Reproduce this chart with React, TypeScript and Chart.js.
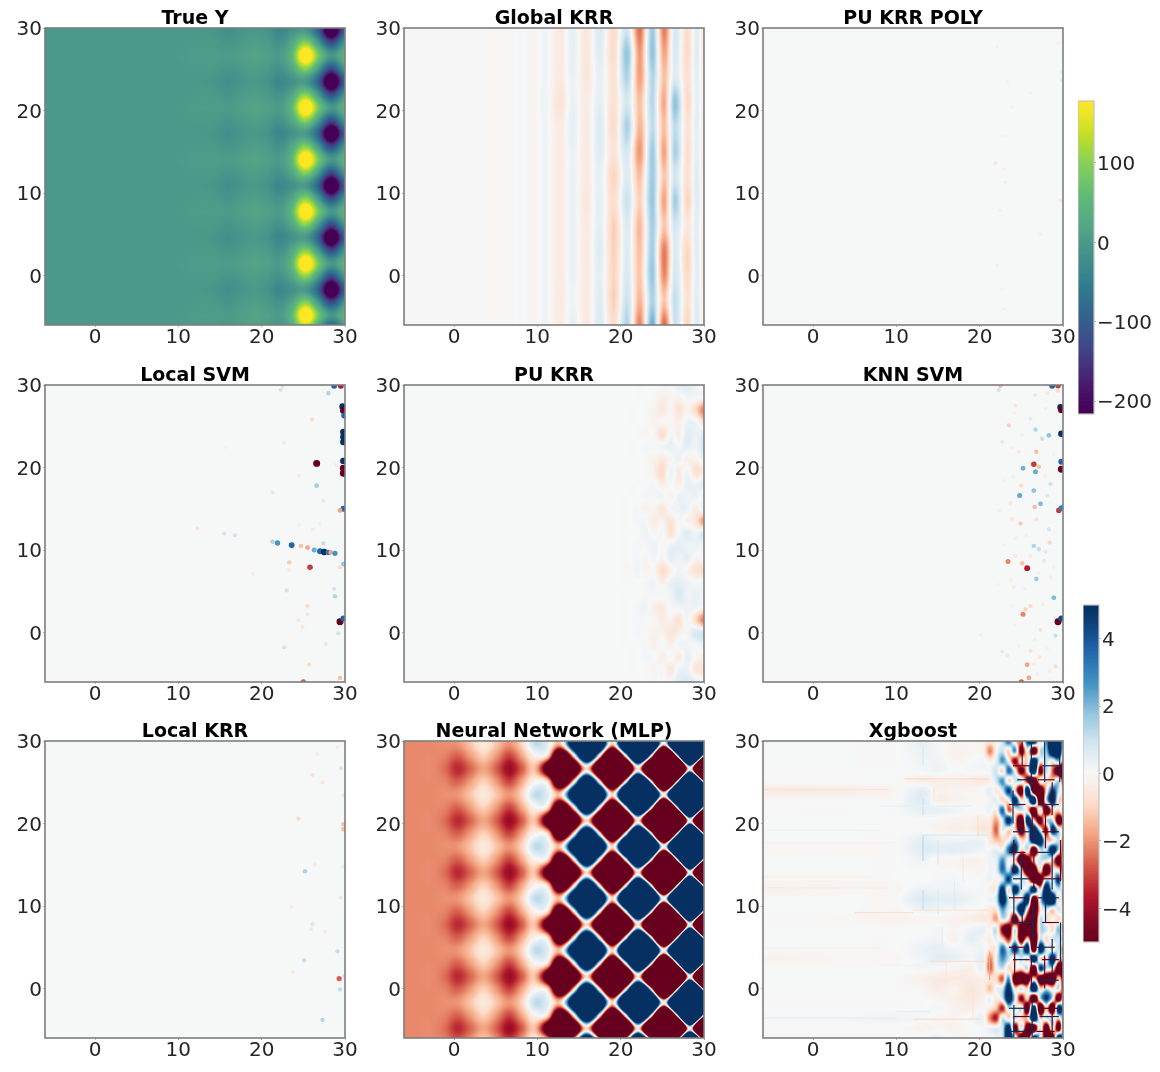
import { Chart, registerables } from 'chart.js';
import { useEffect, useRef } from 'react';

Chart.register(...registerables);

const axisTicks = [0, 10, 20, 30];
const viridisStops = ['#440154', '#482475', '#414487', '#355f8d', '#2f7a8e', '#418f8b', '#55a587', '#5cbb75', '#86cf5a', '#bddf26', '#fde725'];
const rdbuStops = ['#67001f', '#b2182b', '#d6604d', '#f4a582', '#fddbc7', '#f7f7f7', '#d1e5f0', '#92c5de', '#4393c3', '#2166ac', '#053061'];

// checkerboard coordinates shared by True Y and MLP
const checkerXs = [-7.3, -5.75, -4.2, -2.65, -1.1, 0.45, 2, 3.55, 5.1, 6.65, 8.2, 9.75, 11.3, 12.85, 14.4, 15.95, 17.5, 19.05, 20.6, 22.15, 23.7, 25.25, 26.8, 28.35, 29.9, 31.45];
const checkerYs = [31.4, 29.8, 28.2, 26.65, 25.1, 23.5, 21.9, 20.35, 18.8, 17.2, 15.6, 14.05, 12.5, 10.9, 9.3, 7.75, 6.2, 4.6, 3, 1.45, -0.1, -1.7, -3.3, -4.85, -6.4];

const trueHigh = [0, 0, 0, 0, 0, 0, 0, 0, 0, 0, 0, 1, 3, 6, 5, 3, 10, 18, 12, 3, 60, 240, 85, -5, 50, 140];
const trueMid = [0, 0, 0, 0, 0, 0, 0, 0, 0, 0, 0, 0, 1, 2, 0, -7, 1, 8, 2, -12, 25, 105, 0, -125, -8, 70];
const trueLow = [0, 0, 0, 0, 0, 0, 0, 0, 0, 0, 0, 0, -1, -2, -6, -17, -8, -2, -8, -32, -12, -3, -95, -300, -100, 0];
const trueRows = [trueMid, trueLow, trueMid, trueHigh, trueMid, trueLow, trueMid, trueHigh, trueMid, trueLow, trueMid, trueHigh, trueMid, trueLow, trueMid, trueHigh, trueMid, trueLow, trueMid, trueHigh, trueMid, trueLow, trueMid, trueHigh, trueMid];

const mlpRed = [-2.4, -2.4, -2.4, -2.4, -2.8, -3.8, -2.9, -2, -3, -4.4, -3, -1.6, -8, -20, -11, -1, -14, -32, -17, -0.8, -26, -60, -32, 0, -40, -80];
const mlpMid = [-2.4, -2.4, -2.4, -2.4, -2.5, -3, -2.1, -1.2, -2.2, -3.4, -1.9, -0.2, -1.2, -11, -0.7, 13, -0.7, -16, -0.4, 19, -0.3, -30, -0.2, 35, 0, -40];
const mlpBlue = [-2.4, -2.4, -2.4, -2.4, -2.3, -2.2, -1.4, -0.5, -1.4, -2.2, -1, 1.3, 0.5, -1, 11, 28, 13, -1, 18, 38, 20, 0, 30, 65, 35, 0];
const mlpRows = [mlpMid, mlpBlue, mlpMid, mlpRed, mlpMid, mlpBlue, mlpMid, mlpRed, mlpMid, mlpBlue, mlpMid, mlpRed, mlpMid, mlpBlue, mlpMid, mlpRed, mlpMid, mlpBlue, mlpMid, mlpRed, mlpMid, mlpBlue, mlpMid, mlpRed, mlpMid];

const globalXs = [-6, 3, 6.5, 8, 9.6, 10.9, 12.8, 14.2, 15.9, 17.5, 19.2, 20.8, 22.3, 23.8, 25.2, 26.5, 28, 29.1, 30, 31];
const globalYs = [30, 27, 24, 21, 18, 15, 12, 9, 6, 3, 0, -3, -6];
const globalRows = [
  [0, -0.02, -0.08, 0.06, -0.15, 0.2, -0.5, 0.45, -0.6, 0.7, -0.9, 0.9, -2.8, 1.8, -2.6, 0.8, -0.9, 0.5, -0.5, 0],
  [0, -0.02, -0.08, 0.06, -0.15, 0.2, -0.5, 0.45, -0.6, 0.6, -0.9, 1.9, -2.2, 2, -2, 0.8, -1, 0.6, -0.6, 0],
  [0, -0.02, -0.08, 0.06, -0.15, 0.2, -0.5, 0.35, -0.6, 0.45, -0.7, 1.5, -2.1, 1.5, -1.5, 0.7, -0.8, 0.5, -0.45, 0],
  [0, -0.02, -0.08, 0.06, -0.15, 0.2, -0.7, 0.35, -0.45, 0.5, -0.8, 0.9, -1.5, 1.4, -1.9, 2, -1, 0.5, -0.45, 0],
  [0, -0.02, -0.08, 0.06, -0.15, 0.2, -0.45, 0.45, -0.5, 0.7, -0.9, 1.6, -1.7, 1.3, -1.5, 1.3, -0.7, 0.5, -0.5, 0],
  [0, -0.02, -0.08, 0.06, -0.15, 0.2, -0.45, 0.35, -0.5, 0.6, -0.7, 0.9, -2.2, 1.8, -2, 1.6, -0.9, 0.45, -0.5, 0],
  [0, -0.02, -0.08, 0.06, -0.15, 0.2, -0.45, 0.35, -0.5, 0.45, -1.1, 0.7, -1.5, 1.8, -1.4, 0.9, -0.8, 0.6, -0.45, 0],
  [0, -0.02, -0.08, 0.06, -0.15, 0.2, -0.45, 0.35, -0.6, 0.5, -0.9, 1.1, -1.2, 1.9, -2, 1.7, -1.1, 0.6, -0.35, 0],
  [0, -0.02, -0.08, 0.06, -0.15, 0.2, -0.45, 0.35, -0.5, 0.5, -1.2, 0.7, -1.6, 1.7, -1.4, 0.9, -0.6, 0.5, -0.45, 0],
  [0, -0.02, -0.08, 0.06, -0.15, 0.2, -0.45, 0.35, -0.5, 0.6, -1.2, 0.7, -1.5, 1.7, -2.6, 0.7, -1.1, 0.6, -0.6, 0],
  [0, -0.02, -0.08, 0.06, -0.15, 0.2, -0.45, 0.35, -0.5, 0.5, -1.1, 0.8, -1.4, 1.9, -2.4, 0.9, -1, 0.5, -0.5, 0],
  [0, -0.02, -0.08, 0.06, -0.15, 0.2, -0.5, 0.25, -0.5, 0.6, -1.2, 1.1, -1.7, 1.6, -1.4, 1.2, -0.8, 0.6, -0.45, 0],
  [0, -0.02, -0.08, 0.06, -0.15, 0.2, -0.45, 0.45, -0.5, 0.7, -0.9, 1.5, -2.5, 2.5, -2.9, 1.1, -1.1, 0.7, -0.5, 0],
];

const puXs = [20, 21, 22, 23, 24, 25, 26, 27, 28, 29, 30];
const puYs = [30, 28.5, 27, 25.5, 24, 22.5, 21, 19.5, 18, 16.5, 15, 13.5, 12, 10.5, 9, 7.5, 6, 4.5, 3, 1.5, 0, -1.5, -3, -4.5, -6];
const puRows = [
  [0, 0, 0, 0, 0, 0, 0, 0.5, 0.6, 0.1, 0],
  [0, 0, 0, 0, 0, -0.3, -0.1, -0.2, 0.2, 0.1, 0],
  [0, 0, 0, 0, -0.2, -0.5, -0.1, -0.7, -0.2, -1, -2.6],
  [0, 0, 0, 0, -0.2, -0.1, -0.1, -0.3, 0.3, 0.2, -0.8],
  [0, 0, 0, -0.1, 0, -0.9, 0.1, -0.3, 0.6, 0.3, 0.6],
  [0, 0, 0, 0.1, 0.1, 0.2, 0.4, 0.1, 0.5, 0.2, 0.9],
  [0, 0, 0, 0, -0.2, -0.5, -0.1, 0.3, -0.3, -0.2, 0.3],
  [0, 0, 0, 0, -0.3, -1, 0.3, -0.5, 0.2, -0.8, -0.4],
  [0, 0, 0, 0, 0.1, -0.4, 0.1, -0.3, 0.4, 0.2, 0.6],
  [0, 0, 0, 0.1, 0.1, 0.2, -0.2, 0.3, 0.2, 0.3, -0.2],
  [0, 0, 0.1, -0.2, -0.1, -0.6, 0.1, 0.3, 0.3, -0.4, 0.4],
  [0, 0, 0.1, 0.1, -0.4, -0.2, -0.7, 0.1, -0.2, -0.6, -2.2],
  [0, 0, 0, 0.2, -0.1, 0.1, -0.7, 0.1, 0.6, 0.2, 0.8],
  [0, 0, 0.1, 0.1, 0.3, -0.1, 0.3, 0.5, 0.2, 0.3, 0.2],
  [0, 0, 0.1, -0.1, 0.2, -0.2, 0.5, 0.2, 0.5, -0.2, 0.1],
  [0, -0.1, 0.2, -0.2, -0.1, -0.9, -0.3, 0.2, -0.2, -0.7, -0.9],
  [0, 0, 0, 0.1, 0.2, -0.3, 0.4, 0.5, 0.3, 0.1, 0.2],
  [0, 0, 0, 0.1, 0.1, 0.1, 0.2, 0.8, 0.2, 0.4, 0.1],
  [0, 0, 0.1, 0.2, -0.3, -0.5, 0.1, 0.1, 0.3, 0.2, -0.1],
  [0, 0, 0.1, 0.1, -0.1, -0.4, -0.2, -0.7, 0.2, -1, -2.6],
  [0, 0, 0.1, 0, -0.2, -0.2, -0.6, -0.3, 0.1, 0.8, 0.9],
  [0, 0, 0, 0.1, -0.3, 0.1, -0.3, 0.2, 0.2, 0.1, 0.4],
  [0, 0, 0, 0.1, 0.1, -0.3, 0.1, -0.4, 0.4, -0.1, -0.3],
  [0, 0, 0, 0, -0.2, 0.1, -0.6, 0.3, 0.3, -0.6, -0.7],
  [0, 0, 0, 0, 0, 0, 0.1, 0.6, 0.8, 0.4, 0.2],
];

const xgbXs = [-6, 5, 10, 13.2, 15, 17, 19, 20.5, 21.25, 22, 22.75, 23.5, 24.25, 25, 25.75, 26.5, 27.25, 28, 28.75, 29.5, 30.25];
const xgbYs = [30, 28.8, 27.6, 26.4, 25.2, 24, 22.8, 21.6, 20.4, 19.2, 18, 16.8, 15.6, 14.4, 13.2, 12, 10.8, 9.6, 8.4, 7.2, 6, 4.8, 3.6, 2.4, 1.2, 0, -1.2, -2.4, -3.6, -4.8, -6];
const xgbRows = [
  [0, 0, 0, 0.4, 0.1, -0.1, -0.1, -0.2, -0.5, -0.2, 1, 4, -1, -2, 5, 8, -1, 3, 9, 6, 1],
  [0, 0, 0, 0.3, 0.1, -0.2, -0.1, -0.3, -2.5, 0, 1, -1, 3, -6, 0, -8, 1, 2, 9, 8, -3],
  [0, 0, 0, 0.2, 0.2, -0.1, 0, 0.1, -0.3, 0.5, 3, 0, -5, 0, -1, 8, 0, 1, 0, 2, -6],
  [0, 0, 0, 0.1, 0.2, 0, 0.1, 0.1, 0.2, 1, -1, 4, 0, -6, 0, 9, -6, 1, -3, -8, -9],
  [0, 0, 0, -0.3, -0.3, -0.3, -0.4, -0.5, -0.3, 1, 3, -1, 1, 1, -5, -9, 0, -1, -1, 1, -8],
  [-0.4, -0.3, -0.1, 0.5, -0.2, -0.1, -0.1, 0.1, 0.5, -0.5, 1, 5, -1, -7, 8, -9, -9, -1, 5, 1, -2],
  [0, 0, 0, 0.6, -0.3, -0.2, -0.1, -0.1, 0.2, 0.5, -1, 0, 6, -0.5, 1, 9, -9, 1, 7, -1, 0],
  [0, 0, 0.1, 0.4, 0.4, 0.2, 0, 0.1, 0.3, -0.3, 4, -3, 0, 1, -1, -8, 1, -8, -1, -1, 2],
  [0, 0, 0, 0, -0.1, -0.2, -0.2, -0.4, -0.4, -2, 1, 6, -1, -9, 7, -1, -6, 1, 1, -7, -1],
  [0, 0, 0, 0, -0.2, -0.3, -0.3, -0.6, -0.7, -3, 0.5, -1, -1, -7, 1, 8, 1, -5, 6, 1, -1],
  [0, 0, 0, 0.5, 0.3, 0.2, 0.3, 0.2, -0.5, -1.5, -1, 0, 3, -1, 0.5, 9, 8, -1, -1, 1, -5],
  [-0.1, -0.1, 0, 0.6, 0.5, 0.5, 0.4, 0.2, 0.1, 0.5, 0, 4, 6, -1, 1, -8, 1, 1, 7, 1, -6],
  [0, 0, 0, 0.2, -0.1, -0.1, -0.2, -0.1, 0.3, 0.5, 3, 0, -1, -9, -7, -1, 1, 1, -1, -7, 3],
  [0, 0, 0, 0.1, 0, 0, -0.1, -0.1, 0.2, 0.5, 4, 1, 7, -1, -9, -9, 0, -9, -1, -1, -6],
  [-0.1, -0.1, 0, 0, 0.1, 0.1, 0, 0.1, 0.3, -0.3, 1, 5, -1, 1, -1, -9, -8, 1, 0, 5, -9],
  [-0.2, -0.1, -0.1, 0.3, 0.2, 0.2, 0.1, 0.1, -0.3, 0, 6, -1, 7, 1, 1, 7, -1, 8, 1, 1, 1],
  [0, 0, 0, 0.7, 0.5, 0.5, 0.2, 0.1, 0.3, 1, 7, 1, -1, 1, 7, -9, 1, 7, 9, -1, 5],
  [0, 0, -0.1, 0.3, 0.2, 0.1, 0, -0.1, -0.5, -0.5, 3, 0.5, 1, 8, -1, -9, -1, 1, -1, 1, -1],
  [0, -0.1, -0.2, -0.1, -0.1, -0.2, -0.3, -0.5, -0.6, -2, 1, -1, -7, 0, -6, -9, 1, -1, 0, -1, 1],
  [0, 0, 0, 0, 0.1, -0.1, 0.2, 0.4, -0.2, 1, -5, -7, 1, -9, -9, -8, 1, 1, -1, 2, -6],
  [0, 0, 0, 0.1, 0.2, -0.2, 0.5, 0.1, -0.4, 0.5, -1, -4, 1, -7, -1, -9, 1, -1, 1, 1, 1],
  [0, 0, 0, 0.3, 0.4, 0.2, 0.1, 0.2, -0.5, -0.2, 4, 1, 6, 1, 7, -9, 7, 1, -1, 1, -6],
  [-0.2, -0.1, -0.1, 0.2, 0.5, 0.4, 0.1, 0.3, -2.5, 0.5, 3, 1, -1, 1, -1, 8, -1, 0, 7, -1, -1],
  [0, 0, 0, 0.1, 0, -0.2, -0.3, 0.2, -3, 0, 1, -1, 0, -1, 1, -9, 5, 1, 0, -8, -9],
  [0, 0, 0, -0.3, -0.4, -0.4, -0.4, -0.3, -0.5, -1, -3, 3, -8, -9, -7, -1, -7, -8, -9, -1, -9],
  [0, 0, 0, -0.1, -0.4, -0.2, -0.6, -0.4, -1.5, 0.3, 1, 6, -1, 1, -1, 9, -1, 1, -1, 1, -8],
  [0, 0, 0, 0, -0.1, -0.3, -0.5, -0.2, 0.3, -0.5, 1, 7, 1, -5, -1, -9, 1, 5, 1, -7, 3],
  [0, 0, 0, 0, 0.1, -0.2, -0.3, -0.1, -0.5, -1.5, -4, 1, -1, 1, -8, 8, -9, -1, -9, 7, -1],
  [0.1, 0.1, 0.2, 0.1, -0.1, -0.1, 0.1, 0.2, -2.5, -4, 1, -1, 1, -1, -1, 9, -1, 1, 1, -1, 5],
  [0, 0, 0, -0.2, -0.1, -0.2, 0, 0.1, 0.3, 0.5, 1, 7, -6, 1, -8, -9, 1, -8, 1, -7, 8],
  [0, 0, 0, 0.1, 0.3, -0.1, 0, 0.1, 0, 0.2, 1, 8, 1, -8, -9, 7, 1, -7, -8, 8, -1],
];
// tree-split lines: x1, y1, x2, y2, value
const xgbStreaks = [
  [-6, 24.1, 9, 24.1, -0.7], [11, 25.4, 21, 25.4, -1], [8, 22.1, 19, 22.1, 0.4], [-6, 19.2, 8, 19.2, 0.25], [-6, 17.7, 10, 17.7, -0.3], [13, 18.6, 21, 18.6, 0.8],
  [-6, 12.2, 9, 12.2, -0.4], [-6, 13.5, 7, 13.5, -0.3], [5, 9.2, 12, 9.2, -0.8], [12, 9.5, 21, 9.5, -0.7], [-6, 4.9, 8, 4.9, -0.3], [14, 3.3, 21, 3.3, -0.8],
  [8, 2.8, 13, 2.8, 0.3], [-6, -3.6, 10, -3.6, 0.5], [12, -3.7, 20, -3.7, -1], [10, -2.8, 14, -2.8, 0.5], [13.2, 29.5, 13.2, 27, 0.8], [13.2, 23, 13.2, 21, 1.2],
  [13.2, 18.5, 13.2, 15.5, 1.4], [13.2, 12, 13.2, 9.5, 1.2], [15, 18, 15, 15, 0.8], [15, 12, 15, 9, 0.7], [17, 13, 17, 9.5, 0.6], [21.2, 4.5, 21.2, 1, -2],
  [14.5, 22.5, 14.5, 24.5, -0.5], [18, 16, 18, 13, -0.6], [19.8, 21, 19.8, 18.5, -0.8], [16, 4, 16, 0, -0.5], [19.2, -0.5, 19.2, -3.5, -0.7], [15.5, 7.5, 15.5, 5, 0.6],
  [26.2, 30, 26.2, 24, 7], [26.3, 22, 26.3, 18, -7], [26.5, 17, 26.5, 12, -8], [26.4, 10, 26.4, 6, 7], [26.2, 4, 26.2, 0, -7], [26.3, -1, 26.3, -6, 7],
  [24, 24, 24, 20, 6], [24.1, 18, 24.1, 14, -5], [24.1, 12, 24.1, 8, 6], [24.2, 5, 24.2, 1, -5], [24.1, -2, 24.1, -6, 6], [25.1, 30, 25.1, 27, -6],
  [25, 16, 25, 12, 6], [25.1, 9, 25.1, 6, -6], [27.8, 30, 27.8, 25, 6], [27.9, 21, 27.9, 17, -6], [27.9, 12, 27.9, 8, 6], [27.8, 4, 27.8, 0, -6],
  [28.7, 25, 28.7, 21, -6], [28.7, 17, 28.7, 12, 6], [28.7, 6, 28.7, 2, 6], [28.7, -2, 28.7, -6, -6], [29.6, 30, 29.6, 25, 7], [29.7, 18, 29.7, 13, -7], [29.7, 8, 29.7, 3, 6],
  [24, 27, 26, 27, -6], [27.5, 27, 29.5, 27, 6], [24.5, 25.3, 26.2, 25.3, 6], [27, 25.3, 29, 25.3, -6], [23.5, 22.3, 25.5, 22.3, -6], [27, 22.3, 29.5, 22.3, 6],
  [24, 19, 26, 19, 6], [27.5, 19, 29.5, 19, -6], [23.5, 16.5, 25.5, 16.5, -6], [26.8, 16.5, 29, 16.5, 6], [24, 13.3, 26, 13.3, 6], [27.5, 13.3, 29.8, 13.3, -6],
  [23.5, 11, 25.5, 11, -7], [27, 11, 29.5, 11, 6], [24, 8, 26.2, 8, 6], [27.5, 8, 29.5, 8, -6], [23.5, 5, 25.5, 5, -6], [26.8, 5, 29, 5, 6],
  [24, 3.5, 26, 3.5, 6], [27.5, 3.5, 29.5, 3.5, -6], [24, 1, 26, 1, -6], [27, 1, 29.5, 1, 6], [23.5, -2.4, 25.8, -2.4, 6], [27, -2.4, 29.5, -2.4, -6],
  [24, -3.4, 26, -3.4, -6], [27.2, -3.4, 29.5, -3.4, 6], [23.5, -5.2, 25.5, -5.2, 6], [26.8, -5.2, 29, -5.2, -6],
];

const flatXs = [-6, 30];
const flatYs = [30, -6];
const flatRows = [[0, 0], [0, 0]];

const polySpecks = [
  [21.9, 13.6, -0.6], [22.9, 12.9, 0.35], [23, 11.3, 0.35], [22.5, 7.9, 0.3], [29.7, 9.1, -0.5], [29.8, 23.7, 0.5], [29.8, 24.6, 0.4],
  [23.3, 23.5, 0.25], [26.1, 22.1, -0.25], [29.5, 28.2, -0.25], [23.9, 20.4, -0.2], [27.3, 5, -0.25], [22.1, 1.2, -0.3], [22.9, -4.1, 0.3],
  [22.7, -1.6, -0.2], [23.3, 16.9, 0.2], [22.7, 16.9, -0.2], [22.1, 27.7, 0.2],
];
const localSvmSpecks = [
  [26.6, 20.5, -6], [29.4, 1.3, -6], [29.7, 27.4, 5], [29.8, 26.9, -5.5], [29.9, 26.3, 4], [29.8, 24.3, 5], [29.8, 23.7, 5], [29.8, 23.1, 5],
  [29.8, 19.9, -6], [29.8, 19.3, -6], [29.8, 20.8, 5], [29.8, 15, 4], [29.4, 14.8, -2], [26.6, 17.8, 1.8], [25.8, 7.9, -3.5], [23.3, 8.5, -1.3],
  [21.9, 10.85, 3], [21.3, 11, 1.5], [23.6, 10.6, 4], [24.7, 10.5, -1.5], [25.5, 10.3, -2], [26.3, 10, 2.5], [27, 9.85, 4], [27.5, 9.75, 5],
  [28, 9.7, 3.5], [28.3, 9.7, -2], [28.8, 9.6, 3], [27.4, 10.8, 1.2], [23, 5.1, 1], [28.8, 4.4, 1.5], [28.7, 5.3, 1], [25.5, 3.2, -1],
  [24.4, 1.5, -0.7], [25.5, 2.2, -0.7], [24.9, 0.7, -0.7], [22.7, -1.8, 1], [29.2, -0.1, 1], [27.7, -1.4, 0.7], [25.7, -3.9, -1], [26.05, 25.8, -1],
  [28, 29, 1.5], [22.3, 29.4, 1], [22.5, 29.9, -1], [28.7, 29.9, 4], [29.5, 29.9, -4], [25, -6, -3], [29.4, -5.5, -1.5], [21.3, 17, 0.7],
  [27.4, 16, 0.7], [22.7, 23, 0.5], [15.7, 22.5, 0.3], [12.3, 12.6, -0.7], [15.5, 12, 1], [16.8, 11.8, 1], [29.8, 8.3, 2], [29.4, 7.9, -1],
  [29.8, 1.7, 4], [18.9, 7.1, -0.4], [24.5, 19, -0.5], [28.9, 20.3, -0.4], [23.3, 7.6, -0.5], [26.1, 12.5, -0.4], [27, 13.2, -0.4], [24.5, 13, -0.3],
];
const knnSpecks = [
  [26.5, 20.4, -3.5], [26.7, 19.5, 2.5], [27.1, 20.1, -1.5], [26.8, 21.9, -1.5], [29.4, 1.3, -6], [29.8, 1.7, 4.5], [29.7, 27.3, 5], [29.8, 27, -5.5],
  [29.8, 24.1, 5], [29.8, 19.8, -6], [29.8, 20.7, 4], [29.5, 14.8, -3.5], [29.8, 15.1, 3.5], [25.7, 7.8, -4], [25.1, 8.4, -1.5], [23.4, 8.6, -2.5],
  [25.2, 2.2, -2.5], [25.5, 2.8, -1.2], [26.1, 3.2, -1], [28.9, 4.2, 2.2], [26.8, 6.5, 1.8], [24.8, 16.6, 2.6], [25, 17.8, -1], [25.2, 19.9, 2.4],
  [26.5, 17.2, 2], [27.3, 15.6, 2.2], [26.6, 15.2, -1.6], [23.5, 25.1, -1.2], [26.7, 24.6, 1.5], [28.3, 23.9, 2], [27.5, 23.5, 1.2], [25.7, -3.9, -2],
  [24.9, 13.2, -1.3], [26.8, 13.7, -0.8], [26.5, 10.5, 1.5], [27.1, 10.1, 1.2], [28.4, 10.9, -1.1], [28.3, 12.5, 0.9], [28.5, 18, 1.1], [28.1, 16.6, 0.8],
  [24.7, 21.9, -0.6], [22.7, 23.1, 0.7], [22.5, 29.9, -1.5], [22.3, 29.4, 1], [28.7, 29.9, 4], [29.4, 29.9, -3.5], [29.4, 29.3, -1], [25, -6, -3],
  [25.9, -5.5, -2], [29.1, -0.4, 1.2], [27.3, 0.3, -0.8], [26.1, -2.2, -0.8], [22.7, -2.3, 0.6], [23.7, 15.7, -0.6], [23.9, 13.8, -0.7], [22.3, 14.8, 0.4],
  [27.9, 9.8, 0.7], [27.7, 8.7, 0.7], [28.5, 6.7, -0.5], [26.1, 9.3, -0.5], [24.3, 9.3, -0.5], [26.5, -3.8, -0.5], [27.2, -3, -0.6], [23.3, -2.8, -0.7],
  [29.1, -4.1, -0.9], [26.7, 28.8, 0.7], [28.1, 29, -0.6], [24.3, 27.5, -0.7], [26.1, 25.9, 0.7], [24.1, 5.5, -0.4], [20.1, -0.3, -0.3],
  [24.2, 26.6, -0.3], [25.1, 24, 0.3], [27.9, 27.2, 0.3], [23.8, 22.4, -0.3], [28.9, 21.6, 0.3], [24, 18.9, 0.3], [27.8, 19, -0.3], [23, 18.4, -0.25],
  [25.6, 11.8, 0.3], [24.3, 11.4, -0.3], [22.9, 10.6, 0.3], [28.9, 8, 0.3], [27.1, 7.2, -0.3], [23.8, 6.4, -0.3], [25.4, 5.3, 0.3], [27.6, 3.4, -0.3],
  [24.2, 0.9, -0.3], [26.6, -0.9, 0.3], [28.1, -2, -0.3], [24.7, -1.6, -0.3], [26.9, -5, 0.3], [28.4, -4.7, 0.3], [23.9, 3.2, 0.25], [22.2, 5.8, -0.25],
];
const localKrrSpecks = [
  [29.3, 1.2, -3], [29.9, 1.5, 1], [29.5, 26.7, 1], [29.8, 19.9, -1.5], [29.8, 19.3, -1.5], [29.8, 23.4, 0.7], [26.1, 25.9, -0.8], [27.3, 25, -0.7],
  [24.4, 20.6, -1], [25.2, 14.2, 1.6], [25.1, 3.4, 1.2], [29.1, 4.5, 1.2], [29.4, -0.1, 1.3], [27.3, -3.8, 1.5], [26.1, 7.8, 0.9], [25.9, 7.2, 0.6],
  [26.4, 15, -0.5], [23.6, 9.9, -0.5], [27.6, 6.9, -0.5], [29.1, 29.2, -0.4], [26.7, 28.4, -0.4], [29.5, 11, 0.6], [29.8, 14.8, 0.5], [23.7, 2, -0.5],
];

const viridisLevels = [178, 100, 0, -100, -216];
const viridisTicks = [-200, -100, 0, 100];
const rdbuLevels = [5, 0, -5];
const rdbuTicks = [-4, -2, 0, 2, 4];

function makeLut(stops: string[]) {
  const rgb = stops.map((s) => [1, 3, 5].map((i) => parseInt(s.slice(i, i + 2), 16)));
  const lut: number[][] = [];
  for (let i = 0; i < 256; i++) {
    const p = (i / 255) * (rgb.length - 1);
    const k = Math.min(Math.floor(p), rgb.length - 2);
    const t = p - k;
    lut.push(rgb[k].map((c, n) => c + (rgb[k + 1][n] - c) * t));
  }
  return lut;
}
const viridisLut = makeLut(viridisStops);
const rdbuLut = makeLut(rdbuStops);

function lutColor(lut: number[][], v: number, lo: number, hi: number) {
  const t = Math.max(0, Math.min(1, (v - lo) / (hi - lo)));
  return lut[Math.round(t * 255)];
}

function cssColor(p: any, v: number) {
  const c = lutColor(p.lut, v, p.lo, p.hi);
  return `rgb(${c[0]},${c[1]},${c[2]})`;
}

function fracIndex(coords: number[], v: number) {
  const asc = coords[1] > coords[0];
  for (let i = 0; i < coords.length - 1; i++) {
    const a = coords[i];
    const b = coords[i + 1];
    if ((asc && v <= b) || (!asc && v >= b)) return i + Math.max(0, (v - a) / (b - a));
  }
  return coords.length - 1;
}

function spline(a: number, b: number, c: number, d: number, t: number) {
  return 0.5 * (2 * b + (c - a) * t + (2 * a - 5 * b + 4 * c - d) * t * t + (3 * b - a - 3 * c + d) * t * t * t);
}

// paints the value grid into the chart area, position by position through the scales
function heatPlugin(p: any) {
  return {
    id: 'heat',
    beforeDatasetsDraw(chart: any) {
      const { left, top, width, height } = chart.chartArea;
      const w = Math.round(width);
      const h = Math.round(height);
      const off = document.createElement('canvas');
      off.width = w;
      off.height = h;
      const octx = off.getContext('2d')!;
      const img = octx.createImageData(w, h);
      const ix = Array.from({ length: w }, (_, i) => fracIndex(p.xs, chart.scales.x.getValueForPixel(left + i + 0.5)));
      const iy = Array.from({ length: h }, (_, j) => fracIndex(p.ys, chart.scales.y.getValueForPixel(top + j + 0.5)));
      const nx = p.xs.length;
      const ny = p.ys.length;
      for (let j = 0; j < h; j++) {
        const r = Math.min(Math.floor(iy[j]), ny - 2);
        const ty = iy[j] - r;
        const rr = [r - 1, r, r + 1, r + 2].map((n) => p.rows[Math.max(0, Math.min(ny - 1, n))]);
        for (let i = 0; i < w; i++) {
          const c = Math.min(Math.floor(ix[i]), nx - 2);
          const tx = ix[i] - c;
          const c0 = Math.max(0, c - 1);
          const c3 = Math.min(nx - 1, c + 2);
          const v = spline(
            spline(rr[0][c0], rr[0][c], rr[0][c + 1], rr[0][c3], tx),
            spline(rr[1][c0], rr[1][c], rr[1][c + 1], rr[1][c3], tx),
            spline(rr[2][c0], rr[2][c], rr[2][c + 1], rr[2][c3], tx),
            spline(rr[3][c0], rr[3][c], rr[3][c + 1], rr[3][c3], tx),
            ty
          );
          const col = lutColor(p.lut, v, p.lo, p.hi);
          const o = (j * w + i) * 4;
          img.data[o] = col[0];
          img.data[o + 1] = col[1];
          img.data[o + 2] = col[2];
          img.data[o + 3] = 255;
        }
      }
      octx.putImageData(img, 0, 0);
      chart.ctx.drawImage(off, left, top);
    },
    afterDatasetsDraw(chart: any) {
      const { left, top, width, height } = chart.chartArea;
      const ctx = chart.ctx;
      ctx.save();
      ctx.strokeStyle = p.frame;
      ctx.lineWidth = p.frameWidth;
      ctx.strokeRect(left, top, width, height);
      ctx.restore();
    },
  };
}

function buildDatasets(panel: any) {
  const specks = panel.specks || [];
  const sets: any[] = [{
    data: specks.map((s: number[]) => ({ x: s[0], y: s[1] })),
    pointRadius: specks.map((s: number[]) => 1.8 + Math.min(Math.abs(s[2]), 6) * 0.28),
    pointBorderWidth: 0,
    pointBackgroundColor: specks.map((s: number[]) => cssColor(panel, s[2])),
  }];
  (panel.streaks || []).forEach((s: number[]) => {
    sets.push({
      data: [{ x: s[0], y: s[1] }, { x: s[2], y: s[3] }],
      showLine: true, pointRadius: 0, borderWidth: 1.2, borderColor: cssColor(panel, s[4]),
    });
  });
  return sets;
}

function Panel({ panel }: { panel: any }) {
  const canvasRef = useRef<HTMLCanvasElement>(null);

  useEffect(() => {
    if (!canvasRef.current) return;
    const bar = panel.bar;
    const tickFont = { family: 'DejaVu Sans', size: 20 };
    const tickLabel = (v: any) => String(v).replace('-', '\u2212');
    const chart = new Chart(canvasRef.current, {
      type: 'scatter',
      data: { datasets: buildDatasets(panel) },
      options: {
        responsive: false,
        animation: false,
        layout: {
          autoPadding: false,
          padding: bar ? 0 : { right: 45 },
        },
        plugins: {
          legend: { display: false },
          tooltip: { enabled: false },
          title: bar
            ? { display: false }
            : {
                display: true,
                fullSize: false,
                text: panel.title,
                color: '#000',
                font: { family: 'DejaVu Sans', size: 19, weight: 'bold', lineHeight: 1 },
                padding: { top: 10, bottom: -1 },
              },
        },
        scales: {
          x: {
            type: 'linear',
            display: !bar,
            min: bar ? 0 : -6,
            max: bar ? 1 : 30,
            grid: { drawOnChartArea: false, tickLength: 2, color: '#b5b5b5' },
            border: { display: false },
            ticks: { font: tickFont, color: '#262626', padding: -1, maxRotation: 0, callback: tickLabel },
            afterBuildTicks: (s: any) => { s.ticks = axisTicks.map((value) => ({ value })); },
            afterFit: (s: any) => { s.height = bar ? 0 : 40; },
          },
          y: {
            type: 'linear',
            position: bar ? 'right' : 'left',
            min: bar ? bar.lo : -6,
            max: bar ? bar.hi : 30,
            grid: { drawOnChartArea: false, tickLength: 2, color: '#b5b5b5' },
            border: { display: false },
            ticks: { font: tickFont, color: '#262626', padding: 1, labelOffset: 2, callback: tickLabel },
            afterBuildTicks: (s: any) => { s.ticks = (bar ? bar.ticks : axisTicks).map((value: number) => ({ value })); },
            afterFit: (s: any) => { s.width = bar ? bar.axisWidth : 45; },
          },
        },
      } as any,
      plugins: [heatPlugin(panel)],
    });
    return () => chart.destroy();
  }, [panel]);

  return (
    <canvas
      ref={canvasRef}
      width={panel.w}
      height={panel.h}
      style={{ position: 'absolute', left: panel.left, top: panel.top, width: panel.w, height: panel.h, filter: 'blur(0.7px)' }}
    />
  );
}

const colLefts = [45, 404, 763];
const rowTops = [28, 385, 741];
const rd = { lut: rdbuLut, lo: -5, hi: 5 };

function cell(col: number, row: number, title: string, xs: number[], ys: number[], rows: number[][], extra: any) {
  return {
    title, xs, ys, rows, ...rd, ...extra,
    frame: '#7d7d7d', frameWidth: 1.6,
    left: colLefts[col] - 45, top: rowTops[row] - 28, w: 390, h: 365,
  };
}

const panels = [
  cell(0, 0, 'True Y', checkerXs, checkerYs, trueRows, { lut: viridisLut, lo: -216, hi: 178 }),
  cell(1, 0, 'Global KRR', globalXs, globalYs, globalRows, {}),
  cell(2, 0, 'PU KRR POLY', flatXs, flatYs, flatRows, { specks: polySpecks }),
  cell(0, 1, 'Local SVM', flatXs, flatYs, flatRows, { specks: localSvmSpecks }),
  cell(1, 1, 'PU KRR', puXs, puYs, puRows, {}),
  cell(2, 1, 'KNN SVM', flatXs, flatYs, flatRows, { specks: knnSpecks }),
  cell(0, 2, 'Local KRR', flatXs, flatYs, flatRows, { specks: localKrrSpecks }),
  cell(1, 2, 'Neural Network (MLP)', checkerXs, checkerYs, mlpRows, {}),
  cell(2, 2, 'Xgboost', xgbXs, xgbYs, xgbRows, { streaks: xgbStreaks }),
  {
    title: '', xs: [0, 1], ys: viridisLevels, rows: viridisLevels.map((v) => [v, v]),
    lut: viridisLut, lo: -216, hi: 178, frame: '#c4c4c4', frameWidth: 1.2,
    left: 1078, top: 88, w: 82, h: 339,
    bar: { lo: -216, hi: 178, ticks: viridisTicks, axisWidth: 66 },
  },
  {
    title: '', xs: [0, 1], ys: rdbuLevels, rows: rdbuLevels.map((v) => [v, v]),
    lut: rdbuLut, lo: -5, hi: 5, frame: '#c4c4c4', frameWidth: 1.2,
    left: 1083, top: 592, w: 77, h: 363,
    bar: { lo: -5, hi: 5, ticks: rdbuTicks, axisWidth: 61 },
  },
];

export default function App() {
  return (
    <div style={{ position: 'absolute', left: 0, top: 0, width: 1160, height: 1072, background: '#fff', overflow: 'hidden' }}>
      {panels.map((p, i) => <Panel key={i} panel={p} />)}
    </div>
  );
}
